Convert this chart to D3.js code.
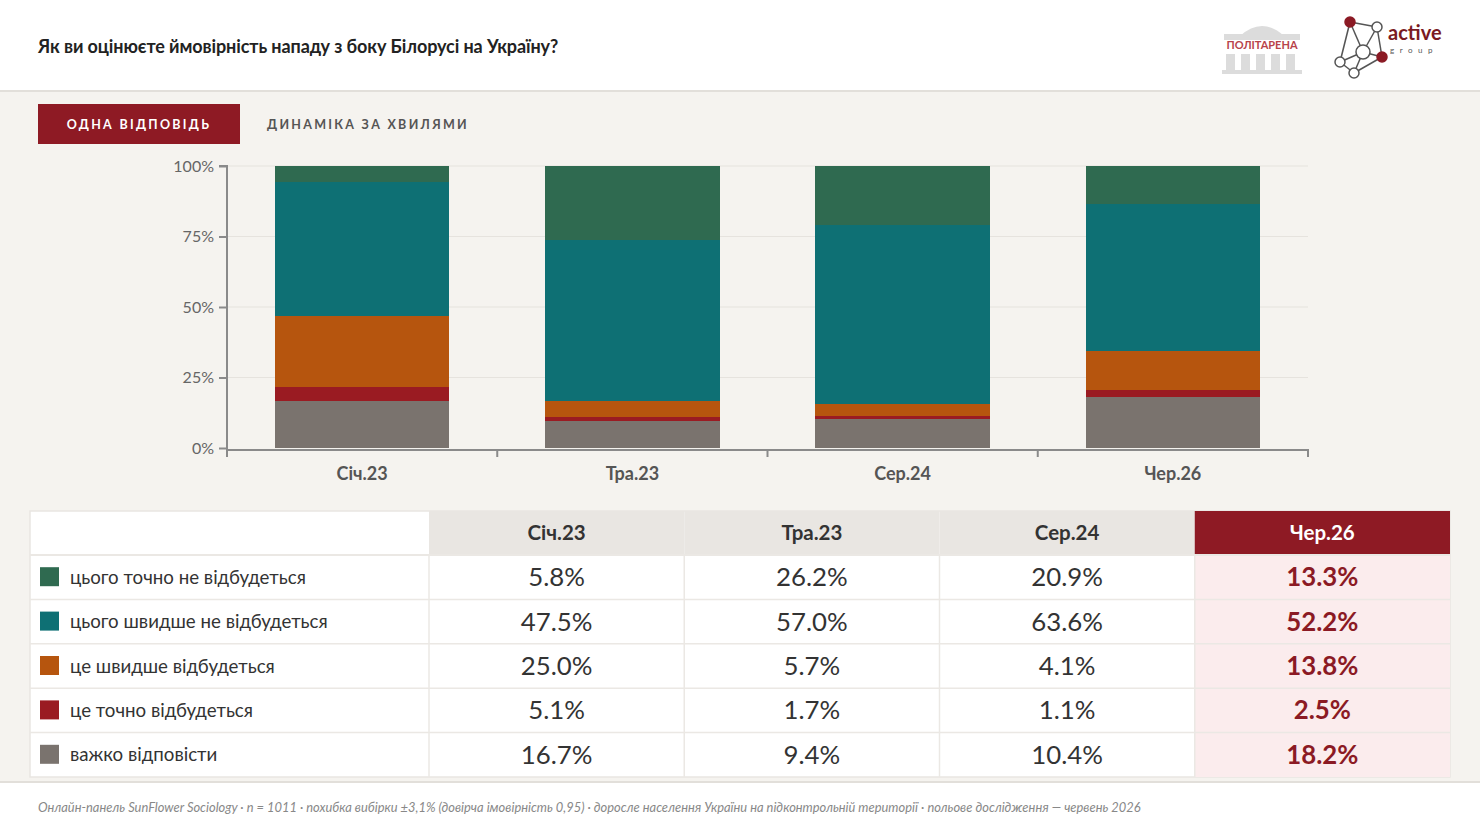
<!DOCTYPE html>
<html>
<head>
<meta charset="utf-8">
<script src="https://cdn.jsdelivr.net/npm/d3@7"></script>
<style>
  html, body { margin: 0; padding: 0; background: #fff; }
  svg { display: block; font-family: Lato, "Open Sans", sans-serif; }
</style>
</head>
<body>
<div id="chart"></div>
<script>
// waves and answer options
const waves = ['Січ.23', 'Тра.23', 'Сер.24', 'Чер.26']
const answers = ['цього точно не відбудеться', 'цього швидше не відбудеться', 'це швидше відбудеться', 'це точно відбудеться', 'важко відповісти']
const colors = ['#2f6a50', '#0e7074', '#b6550e', '#9a1b22', '#7a736e']

// one array per answer, values per wave
const definitelyNot = [5.8, 26.2, 20.9, 13.3]
const probablyNot = [47.5, 57.0, 63.6, 52.2]
const probablyYes = [25.0, 5.7, 4.1, 13.8]
const definitelyYes = [5.1, 1.7, 1.1, 2.5]
const hardToSay = [16.7, 9.4, 10.4, 18.2]
const yTicks = [0, 25, 50, 75, 100]

const series = [definitelyNot, probablyNot, probablyYes, definitelyYes, hardToSay]

const W = 1480, H = 833
const svg = d3.select('#chart').append('svg')
  .attr('width', W)
  .attr('height', H)

// page background
svg.append('rect').attr('width', W).attr('height', H).attr('fill', '#fff')
svg.append('rect').attr('x', 0).attr('y', 90).attr('width', W).attr('height', 692).attr('fill', '#f5f3ef')
svg.append('line').attr('x1', 0).attr('x2', W).attr('y1', 91).attr('y2', 91).attr('stroke', '#e2dfda').attr('stroke-width', 2)
svg.append('line').attr('x1', 0).attr('x2', W).attr('y1', 782).attr('y2', 782).attr('stroke', '#e2dfda').attr('stroke-width', 2)

// title
svg.append('text')
  .attr('x', 38).attr('y', 53)
  .attr('font-size', 18).attr('font-weight', 700).attr('fill', '#222')
  .attr('letter-spacing', -0.1)
  .text('Як ви оцінюєте ймовірність нападу з боку Білорусі на Україну?')

// logos (rough)
let logo1 = svg.append('g').attr('transform', 'translate(1222,18)')
logo1.append('path')
  .attr('d', 'M18,18 Q40,-2 62,18 Z')
  .attr('fill', '#dcdcdc')
logo1.append('rect').attr('x', 2).attr('y', 16).attr('width', 76).attr('height', 6).attr('fill', '#dcdcdc')
for (let i = 0; i < 5; i++) {
  logo1.append('rect').attr('x', 4 + i * 15).attr('y', 36).attr('width', 9).attr('height', 18).attr('fill', '#dcdcdc')
}
logo1.append('rect').attr('x', 0).attr('y', 52).attr('width', 80).attr('height', 4).attr('fill', '#dcdcdc')
logo1.append('text').attr('x', 40).attr('y', 31).attr('text-anchor', 'middle')
  .attr('font-size', 11).attr('font-weight', 700).attr('fill', '#b8434a').text('ПОЛІТАРЕНА')

let logo2 = svg.append('g').attr('transform', 'translate(1330,14)')
const nodes = [[20, 8, 1], [47, 13, 0], [10, 48, 0], [33, 38, 0], [52, 43, 1], [24, 59, 0]]
const links = [[0, 1], [0, 2], [0, 3], [1, 3], [1, 4], [2, 5], [3, 5], [4, 5], [3, 4], [2, 3]]
logo2.selectAll('line').data(links).enter().append('line')
  .attr('x1', d => nodes[d[0]][0]).attr('y1', d => nodes[d[0]][1])
  .attr('x2', d => nodes[d[1]][0]).attr('y2', d => nodes[d[1]][1])
  .attr('stroke', '#555').attr('stroke-width', 1.5)
logo2.selectAll('circle').data(nodes).enter().append('circle')
  .attr('cx', d => d[0]).attr('cy', d => d[1])
  .attr('r', (d, i) => i === 3 ? 7 : 5)
  .attr('fill', d => d[2] ? '#8b1a24' : '#fff')
  .attr('stroke', d => d[2] ? '#8b1a24' : '#555').attr('stroke-width', 1.5)
logo2.append('text').attr('x', 58).attr('y', 26).attr('font-size', 20).attr('font-weight', 700).attr('fill', '#7a1a22').text('active')
logo2.append('text').attr('x', 60).attr('y', 39).attr('font-size', 8).attr('letter-spacing', 5.5).attr('fill', '#555').text('group')

// tabs
svg.append('rect').attr('x', 38).attr('y', 104).attr('width', 202).attr('height', 40).attr('fill', '#8e1a24')
svg.append('text').attr('x', 139).attr('y', 129).attr('text-anchor', 'middle')
  .attr('font-size', 12.5).attr('font-weight', 700).attr('letter-spacing', 2.3).attr('fill', '#fff')
  .text('ОДНА ВІДПОВІДЬ')
svg.append('text').attr('x', 267).attr('y', 129)
  .attr('font-size', 12.5).attr('font-weight', 700).attr('letter-spacing', 2.3).attr('fill', '#555')
  .text('ДИНАМІКА ЗА ХВИЛЯМИ')

// chart
const x = d3.scaleBand()
  .domain(waves)
  .range([227, 1308])
  .paddingInner(0.355)
  .paddingOuter(0.1775)

const y = d3.scaleLinear()
  .domain([0, 100])
  .range([448, 166])

svg.append('g').selectAll('line')
  .data(yTicks.slice(1))
  .enter()
  .append('line')
  .attr('x1', 227).attr('x2', 1308)
  .attr('y1', d => y(d)).attr('y2', d => y(d))
  .attr('stroke', '#e6e3de').attr('stroke-width', 1.2)

// stack bottom to top: hardToSay first
const rows = waves.map((w, i) => {
  let r = { wave: w }
  answers.forEach((a, j) => { r[a] = series[j][i] })
  return r
})
const stack = d3.stack().keys(answers.slice().reverse())(rows)
const color = d3.scaleOrdinal().domain(answers).range(colors)

svg.append('g').selectAll('g')
  .data(stack)
  .enter()
  .append('g')
  .attr('fill', d => color(d.key))
  .selectAll('rect')
  .data(d => d)
  .enter()
  .append('rect')
  .attr('shape-rendering', 'crispEdges')
  .attr('x', d => x(d.data.wave))
  .attr('width', x.bandwidth())
  .attr('y', d => y(Math.min(d[1], 100)))
  .attr('height', d => y(d[0]) - y(Math.min(d[1], 100)))

// y axis
let yAxis = svg.append('g')
  .attr('transform', 'translate(227,0)')
  .call(d3.axisLeft(y).tickValues(yTicks).tickFormat(d => d + '%').tickSize(8).tickPadding(5))
yAxis.select('.domain').attr('stroke', '#8a8a8a').attr('stroke-width', 2).attr('d', 'M-8,166H0V450')
yAxis.selectAll('.tick line').attr('stroke', '#8a8a8a').attr('stroke-width', 2)
yAxis.selectAll('.tick text').attr('font-size', 16).attr('fill', '#666').attr('font-family', 'Lato')

// x axis with ticks at band edges
const edges = waves.map(w => x(w) - x.step() * x.paddingInner() / 2).concat([1308])
let xAxis = svg.append('g')
svg.append('line').attr('x1', 226).attr('x2', 1309).attr('y1', 450).attr('y2', 450)
  .attr('stroke', '#8a8a8a').attr('stroke-width', 2)
xAxis.selectAll('line').data(edges).enter().append('line')
  .attr('x1', d => d).attr('x2', d => d).attr('y1', 450).attr('y2', 457)
  .attr('stroke', '#8a8a8a').attr('stroke-width', 2)
xAxis.selectAll('text').data(waves).enter().append('text')
  .attr('x', d => x(d) + x.bandwidth() / 2).attr('y', 480)
  .attr('text-anchor', 'middle').attr('font-size', 18).attr('font-weight', 700).attr('fill', '#555')
  .text(d => d)

// table
const col = d3.scaleBand().domain(waves).range([429, 1450])
const row = d3.scaleBand().domain(answers).range([555, 777])
const last = waves[waves.length - 1]

let table = svg.append('g')
table.append('rect').attr('x', 30).attr('y', 511).attr('width', 1420).attr('height', 266)
  .attr('fill', '#fff').attr('stroke', '#e9e6e2').attr('stroke-width', 1.5)

table.selectAll('.hcell').data(waves).enter().append('rect')
  .attr('x', d => col(d)).attr('y', 511).attr('width', col.bandwidth()).attr('height', 44)
  .attr('fill', d => d === last ? '#8e1a24' : '#e9e6e2')
table.append('rect').attr('x', col(last)).attr('y', 555).attr('width', col.bandwidth()).attr('height', 222)
  .attr('fill', '#fbeced')

table.selectAll('.hline').data(answers.slice(1)).enter().append('line')
  .attr('x1', 30).attr('x2', 1450).attr('y1', d => row(d)).attr('y2', d => row(d))
  .attr('stroke', '#ebe8e4').attr('stroke-width', 1.5)
table.append('line').attr('x1', 30).attr('x2', 1450).attr('y1', 555).attr('y2', 555)
  .attr('stroke', '#ebe8e4').attr('stroke-width', 2)
table.selectAll('.vline').data(waves).enter().append('line')
  .attr('x1', d => col(d)).attr('x2', d => col(d)).attr('y1', 555).attr('y2', 777)
  .attr('stroke', '#ebe8e4').attr('stroke-width', 1.5)

table.selectAll('.htext').data(waves).enter().append('text')
  .attr('x', d => col(d) + col.bandwidth() / 2).attr('y', 540)
  .attr('text-anchor', 'middle').attr('font-size', 20.5).attr('font-weight', 700)
  .attr('fill', d => d === last ? '#fff' : '#333')
  .text(d => d)

table.selectAll('.swatch').data(answers).enter().append('rect')
  .attr('x', 40).attr('y', d => row(d) + row.bandwidth() / 2 - 10).attr('width', 19).attr('height', 19)
  .attr('fill', d => color(d))
table.selectAll('.label').data(answers).enter().append('text')
  .attr('x', 70).attr('y', d => row(d) + row.bandwidth() / 2 + 6.5)
  .attr('font-size', 18.7).attr('fill', '#333')
  .text(d => d)

answers.forEach((a, j) => {
  table.selectAll('.v' + j).data(series[j]).enter().append('text')
    .attr('x', (d, i) => col(waves[i]) + col.bandwidth() / 2)
    .attr('y', row(a) + row.bandwidth() / 2 + 9)
    .attr('text-anchor', 'middle').attr('font-size', 25.8)
    .attr('font-weight', (d, i) => waves[i] === last ? 700 : 400)
    .attr('fill', (d, i) => waves[i] === last ? '#8b1a24' : '#333')
    .text(d => d.toFixed(1) + '%')
})

// footer
svg.append('text').attr('x', 38).attr('y', 812)
  .attr('font-size', 12.9).attr('font-style', 'italic').attr('fill', '#888')
  .text('Онлайн-панель SunFlower Sociology · n = 1011 · похибка вибірки ±3,1% (довірча імовірність 0,95) · доросле населення України на підконтрольній території · польове дослідження — червень 2026')
</script>
</body>
</html>
